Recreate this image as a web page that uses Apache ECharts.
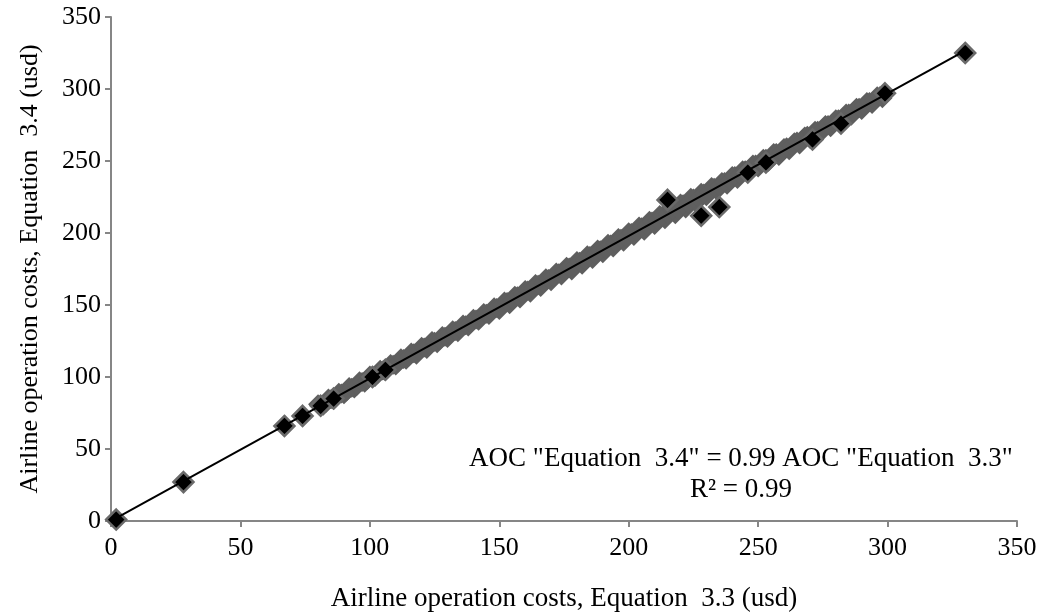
<!DOCTYPE html>
<html>
<head>
<meta charset="utf-8">
<script src="https://cdn.jsdelivr.net/npm/echarts@6/dist/echarts.min.js"></script>
<style>
html,body{margin:0;padding:0;background:#fff;}
#chart{width:1051px;height:613px;}
</style>
</head>
<body>
<div id="chart"></div>
<script>
// Axis ticks
const xTicks = [0, 50, 100, 150, 200, 250, 300, 350];
const yTicks = [0, 50, 100, 150, 200, 250, 300, 350];

// Dense cloud of observations (AOC Eq 3.3, AOC Eq 3.4) — even x
const cloudPointsA = [
  [80,81],[82,80],[84,85],[86,84],[88,89],[90,88],[92,93],[94,92],[96,97],[98,96],
  [100,101],[102,100],[104,105],[106,104],[108,109],[110,108],[112,113],[114,112],[116,117],[118,115.5],
  [120,121],[122,119.5],[124,125],[126,123.5],[128,128.5],[130,127],[132,132.5],[134,131],[136,136.5],[138,135],
  [140,140.5],[142,139],[144,144.5],[146,143],[148,148.5],[150,146.5],[152,152.5],[154,150.5],[156,156.5],[158,154.5],
  [160,160.5],[162,158.5],[164,164.5],[166,162.5],[168,168.5],[170,166.5],[172,172.5],[174,170.5],[176,176.5],[178,174],
  [180,180.5],[182,178],[184,184.5],[186,182],[188,188.5],[190,186],[192,192.5],[194,190],[196,196.5],[198,194],
  [200,200.5],[202,198],[204,204.5],[206,201.5],[208,208.5],[210,205.5],[212,212.5],[214,209.5],[216,216.5],[218,213],
  [220,220.5],[222,217],[224,224.5],[226,221],[228,228],[230,225.5],[232,232],[234,229.5],[236,235.5],[238,233.5],
  [240,239.5],[242,237.5],[244,243.5],[246,241.5],[248,247.5],[250,245.5],[252,251.5],[254,249.5],[256,255.5],[258,253.5],
  [260,259],[262,257.5],[264,263],[266,261.5],[268,267],[270,265.5],[272,271],[274,269.5],[276,275],[278,273.5],
  [280,279],[282,277.5],[284,283],[286,281.5],[288,287],[290,285.5],[292,291],[294,289.5],[296,295],[298,293.5]
];
// Dense cloud — odd x
const cloudPointsB = [
  [81,80.5],[83,82],[85,84.5],[87,86],[89,88.5],[91,90],[93,92.5],[95,94],[97,96.5],[99,98],
  [101,100.5],[103,102],[105,104.5],[107,106],[109,108.5],[111,110],[113,112.5],[115,114],[117,116.5],[119,118],
  [121,120.5],[123,122],[125,124.5],[127,125.5],[129,128],[131,129.5],[133,132],[135,133.5],[137,136],[139,137.5],
  [141,140],[143,141.5],[145,144],[147,145.5],[149,148],[151,149.5],[153,152],[155,153.5],[157,156],[159,157.5],
  [161,160],[163,161.5],[165,164],[167,165.5],[169,168],[171,169.5],[173,172],[175,173.5],[177,176],[179,177],
  [181,180],[183,181],[185,184],[187,185],[189,188],[191,189],[193,192],[195,193],[197,196],[199,197],
  [201,200],[203,201],[205,204],[207,205],[209,208],[211,209],[213,212],[215,213],[217,216],[219,216.5],
  [221,220],[223,220.5],[225,224],[227,224.5],[229,227.5],[231,228.5],[233,231.5],[235,232.5],[237,235.5],[239,236.5],
  [241,239.5],[243,240.5],[245,243.5],[247,244.5],[249,247.5],[251,248.5],[253,251.5],[255,252.5],[257,255.5],[259,256.5],
  [261,259.5],[263,260.5],[265,263.5],[267,264.5],[269,267.5],[271,268.5],[273,271],[275,272.5],[277,275],[279,276.5],
  [281,279],[283,280.5],[285,283],[287,284.5],[289,287],[291,288.5],[293,291],[295,292.5],[297,295]
];

// Individually visible observations
const distinctPoints = [
  [2,1],[28,27],[67,66],[74,73],[81,80],[86,85],[101,100],[106,105],
  [215,223],[228,212],[235,218],[246,242],[253,249],[271,265],[282,276],[299,297],[330,325]
];

// Linear trend line end points: AOC 3.4 = 0.99 AOC 3.3
const trendLine = [[2,2],[330,326.7]];

const equationText = 'AOC "Equation  3.4" = 0.99 AOC "Equation  3.3"';
const r2Text = 'R² = 0.99';
const xTitle = 'Airline operation costs, Equation  3.3 (usd)';
const yTitle = 'Airline operation costs, Equation  3.4 (usd)';

const FONT = '"Liberation Serif", "Times New Roman", serif';
const AXIS_COLOR = '#868686';
const FS = 26;

const chart = echarts.init(document.getElementById('chart'), null, {renderer: 'canvas'});
chart.setOption({
  animation: false,
  backgroundColor: '#ffffff',
  grid: {left: 111, right: 34, top: 17, bottom: 92, containLabel: false, outerBoundsMode: 'none'},
  xAxis: {
    type: 'value', min: xTicks[0], max: xTicks[xTicks.length-1], interval: 50,
    name: xTitle, nameLocation: 'middle', nameGap: 64,
    nameTextStyle: {fontFamily: FONT, fontSize: 27, color: '#000'},
    axisLine: {show: true, onZero: false, lineStyle: {color: AXIS_COLOR, width: 2}},
    axisTick: {show: true, inside: false, length: 6, lineStyle: {color: AXIS_COLOR, width: 2}},
    axisLabel: {fontFamily: FONT, fontSize: FS, color: '#000', margin: 14},
    splitLine: {show: false}
  },
  yAxis: {
    type: 'value', min: yTicks[0], max: yTicks[yTicks.length-1], interval: 50,
    name: yTitle, nameLocation: 'middle', nameGap: 68, nameRotate: 90,
    nameTextStyle: {fontFamily: FONT, fontSize: 26, color: '#000'},
    axisLine: {show: true, onZero: false, lineStyle: {color: AXIS_COLOR, width: 2}},
    axisTick: {show: true, inside: false, length: 6, lineStyle: {color: AXIS_COLOR, width: 2}},
    axisLabel: {fontFamily: FONT, fontSize: FS, color: '#000', margin: 10},
    splitLine: {show: false}
  },
  series: [
    {
      name: 'cloudA', type: 'scatter', data: cloudPointsA,
      symbol: 'diamond', symbolSize: 20,
      itemStyle: {color: '#5f5f5f', borderColor: '#5f5f5f', borderWidth: 0, opacity: 1},
      z: 2
    },
    {
      name: 'cloudB', type: 'scatter', data: cloudPointsB,
      symbol: 'diamond', symbolSize: 20,
      itemStyle: {color: '#5f5f5f', borderColor: '#5f5f5f', borderWidth: 0, opacity: 1},
      z: 2
    },
    {
      name: 'points', type: 'scatter', data: distinctPoints,
      symbol: 'diamond', symbolSize: 20,
      itemStyle: {color: '#000000', borderColor: '#6a6a6a', borderWidth: 2.5, opacity: 1},
      z: 3
    },
    {
      name: 'trend', type: 'line', data: trendLine,
      symbol: 'none', lineStyle: {color: '#000', width: 2},
      z: 4
    }
  ],
  graphic: [
    {type: 'text', position: [741, 459], style: {text: equationText, font: '27px ' + FONT, fill: '#000', textAlign: 'center', textVerticalAlign: 'middle'}, z: 10},
    {type: 'text', position: [741, 490], style: {text: r2Text, font: '27px ' + FONT, fill: '#000', textAlign: 'center', textVerticalAlign: 'middle'}, z: 10}
  ]
});
</script>
</body>
</html>
